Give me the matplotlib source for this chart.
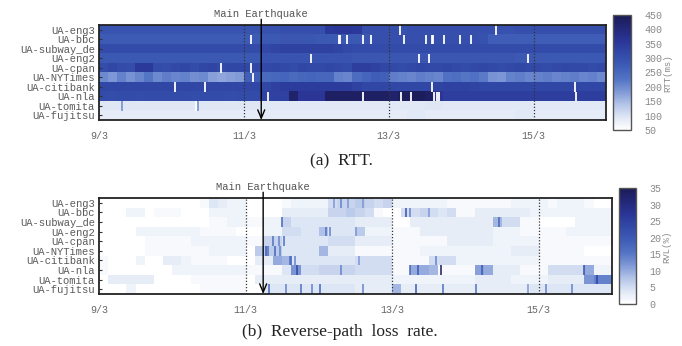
import numpy as np
import matplotlib
matplotlib.use("Agg")
import matplotlib.pyplot as plt
from matplotlib.colors import LinearSegmentedColormap

# ---------------- data ----------------
hosts = ["UA-eng3", "UA-bbc", "UA-subway_de", "UA-eng2", "UA-cpan",
         "UA-NYTimes", "UA-citibank", "UA-nla", "UA-tomita", "UA-fujitsu"]
day_labels = ["9/3", "11/3", "13/3", "15/3"]
day_ticks = [0, 2, 4, 6]          # days since 9/3 00:00
quake_day = 2.24                  # 11/3 05:46 JST
bins_per_day = 8                  # 3-hour bins

# RTT (ms), 56 bins per host (7 days x 8)
rtt_eng3 = [290,290,290,290,290,290,290,290, 290,290,290,290,290,290,290,290,
            290,290,295,295,300,300,300,300, 300,350,355,355,350,300,300,300,
            300,295,300,300,300,300,300,300, 300,300,300,300,295,295,300,300,
            300,300,300,300,300,300,300,300]
rtt_bbc = [275,275,275,275,275,275,275,275, 275,275,275,275,275,275,275,275,
           275,275,280,280,285,285,285,285, 280,280,280,280,280,285,300,300,
           300,300,300,300,300,300,300,300, 300,300,295,270,270,270,270,270,
           270,270,270,270,270,270,270,270]
rtt_subway = [310,310,310,310,310,310,310,310, 310,310,310,310,310,310,310,310,
              310,310,315,325,330,330,330,330, 330,330,325,315,310,310,310,310,
              310,310,310,310,310,310,310,310, 310,310,310,310,310,310,310,310,
              310,310,310,310,310,310,310,310]
rtt_eng2 = [280,280,280,280,280,280,280,280, 280,280,280,280,280,280,280,280,
            280,280,290,290,290,290,290,290, 290,290,290,290,285,285,285,285,
            285,285,285,285,285,285,285,285, 285,285,285,285,285,285,280,280,
            280,280,280,280,280,280,280,280]
rtt_cpan = [305,320,310,305,350,350,310,305, 315,320,310,320,325,315,320,320,
            320,320,315,320,315,310,320,315, 315,320,315,310,340,340,330,320,
            315,310,315,320,315,315,320,315, 310,315,320,315,310,315,320,315,
            315,310,315,320,315,315,310,315]
rtt_nyt = [200,185,210,190,205,225,200,215, 205,210,195,200,175,170,175,180,
           265,270,245,250,255,245,250,255, 250,250,210,205,240,255,270,265,
           215,210,205,215,210,205,230,235, 225,230,220,190,185,210,215,205,
           210,215,205,210,215,205,210,200]
rtt_citi = [320,320,320,320,320,320,320,320, 320,320,320,320,320,320,320,320,
            320,320,320,335,345,345,345,345, 345,345,345,345,330,320,320,320,
            320,320,320,320,320,325,330,330, 330,325,320,320,320,320,320,320,
            320,320,320,320,320,320,320,320]
rtt_nla = [310,305,310,310,305,310,310,310, 310,310,305,310,310,310,305,310,
           310,310,330,330,330,420,360,360, 360,430,430,430,430,430,430,430,
           420,440,440,440,430,360,340,340, 340,340,340,340,340,340,340,340,
           340,340,340,340,340,340,340,340]
rtt_tomita = [95,95,95,95,95,95,95,95, 95,95,95,95,95,95,95,95,
              95,95,90,90,90,90,90,90, 90,90,90,90,90,90,90,90,
              90,90,90,90,95,95,90,90, 90,90,90,90,90,90,90,90,
              90,90,90,90,90,90,90,90]
rtt_fujitsu = [85,85,85,85,85,85,85,85, 85,85,85,85,85,85,85,85,
               85,85,85,85,85,85,85,85, 85,85,85,85,85,85,85,85,
               85,85,90,90,85,85,85,85, 85,85,85,85,85,85,90,90,
               85,85,85,85,85,85,85,85]

# RTT gaps (white lines): (host index, day)
rtt_gap_rows = [0, 0, 1, 1, 1, 1, 1, 1, 1, 1, 1, 1, 1, 1, 1, 3, 3, 3, 3,
                4, 4, 5, 6, 6, 6, 6, 7, 7, 7, 7, 7, 7, 7, 7, 8]
rtt_gap_days = [4.16, 5.48, 2.10, 3.31, 3.33, 3.43, 3.65, 3.75, 4.21, 4.51, 4.60, 4.61,
                4.77, 4.99, 5.13, 2.93, 4.42, 4.55, 5.92,
                1.69, 2.10, 2.12, 1.05, 1.46, 4.60, 6.57, 2.34, 3.65, 4.17, 4.31,
                4.63, 4.67, 4.69, 6.59, 1.34]
# RTT spikes (darker blue lines)
rtt_spike_rows = [8, 8]
rtt_spike_days = [0.32, 1.37]
rtt_spike_vals = [200, 200]

# Reverse-path loss rate (%), 56 bins per host
rvl_eng3 = [0,0,0,0,0,0,0,0, 0,0,0,1,4,3,2,2, 0,0,0,0,1,2,2,2,
            2,5,6,6,7,6,5,6, 2,2,2,2,2,2,1,1, 1,1,1,1,1,2,2,2, 2,1,2,2,2,1,0,0]
rvl_bbc = [0,0,0,2,2,0,1,1, 1,0,0,0,2,2,2,2, 0,0,0,0,3,3,3,3,
           3,6,6,7,6,5,1,0, 0,5,5,6,5,4,5,1, 1,3,3,3,3,3,3,2, 2,2,2,2,2,2,2,2]
rvl_subway = [0,0,0,0,0,0,0,0, 0,0,0,0,1,1,2,2, 1,1,2,2,6,4,4,4,
              4,4,4,4,3,3,3,3, 0,0,3,3,3,3,3,3, 3,3,3,9,5,5,1,1, 0,0,0,0,2,2,2,2]
rvl_eng2 = [0,0,0,0,2,2,2,2, 2,2,2,1,1,1,1,0, 0,0,2,2,5,5,4,4,
            8,4,4,4,7,2,2,2, 1,1,1,3,3,3,3,3, 3,3,3,2,2,2,1,1, 1,1,1,2,2,2,2,2]
rvl_cpan = [0,0,0,0,0,1,1,1, 1,1,2,2,2,2,2,2, 1,1,6,6,4,4,4,4,
            4,5,5,5,3,3,3,3, 1,1,1,1,1,1,3,3, 3,3,3,2,2,2,2,2, 1,1,1,1,1,1,1,1]
rvl_nyt = [0,0,0,0,0,1,1,1, 1,1,1,1,2,2,2,2, 0,7,7,7,4,4,4,4,
           9,3,3,3,1,1,1,1, 1,1,1,2,2,2,2,2, 2,2,2,2,2,3,3,3, 1,1,1,1,1,0,0,0]
rvl_citi = [1,0,0,0,2,0,0,3, 3,2,1,1,1,1,0,0, 0,3,3,10,9,4,4,4,
            4,4,4,4,5,5,5,5, 1,1,1,1,5,5,5,2, 2,2,2,2,2,2,2,2, 1,1,1,1,1,1,1,1]
rvl_nla = [1,0,0,0,0,0,0,0, 2,2,2,2,2,2,2,2, 1,1,1,1,4,12,5,5,
           6,6,6,6,5,5,5,5, 1,1,10,10,9,1,1,1, 1,11,10,3,3,3,1,1, 1,5,5,5,5,10,2,2]
rvl_tomita = [0,3,3,3,3,3,0,0, 0,0,1,1,1,1,1,1, 0,3,3,3,3,3,3,3,
              3,3,3,3,3,3,3,3, 2,2,2,2,2,2,2,2, 2,3,3,3,3,2,2,2, 2,3,3,3,3,12,14,14]
rvl_fujitsu = [0,0,0,2,0,0,0,0, 0,0,0,1,1,1,1,1, 0,0,4,4,4,4,4,4,
               4,4,4,4,3,3,3,3, 9,3,3,3,3,3,3,3, 3,3,3,3,3,3,3,4, 4,4,4,4,4,4,4,4]

# RVL spikes (thin darker lines): (host index, day, value)
rvl_spike_rows = [7, 1, 7, 9, 9, 9, 9, 9, 9, 5, 6, 3, 2, 8, 7,
                  0, 0, 0, 0, 1, 1, 2, 3, 3, 4, 4, 4, 5, 5, 5, 6, 6, 6, 6,
                  7, 7, 7, 7, 9, 9, 9, 9, 9, 9]
rvl_spike_days = [4.67, 4.19, 2.70, 2.32, 2.75, 3.02, 4.32, 5.14, 6.10, 2.28, 2.62, 3.10,
                  2.50, 6.80, 6.62,
                  3.20, 3.30, 3.40, 3.60, 4.25, 4.50, 5.46, 3.15, 3.50, 2.38, 2.45, 2.52,
                  2.30, 2.40, 2.47, 2.60, 2.68, 3.55, 4.60,
                  4.25, 4.35, 5.22, 3.30, 2.55, 2.90, 3.60, 4.70, 5.85, 6.45]
rvl_spike_vals = [35, 22, 24, 18, 16, 18, 20, 16, 14, 20, 20, 16, 18, 25, 22,
                  12, 14, 12, 12, 14, 12, 18, 14, 12, 16, 14, 16,
                  16, 18, 14, 16, 14, 12, 14,
                  18, 20, 20, 14, 14, 14, 14, 16, 12, 14]

# ---------------- style ----------------
cmap = LinearSegmentedColormap.from_list(
    "rtt", ["#ffffff", "#dfe7f5", "#b3c4e8", "#7f98d6", "#5273c4",
            "#3e5cb6", "#3249a8", "#2a3596", "#232777", "#1b1c55"])
mono = "Liberation Mono"
serif = "Liberation Serif"

fig = plt.figure(figsize=(6.82, 3.46), dpi=100)

def panel(rect, crect, rows, vmin, vmax, cticks, clabel, cpos,
          gap_rows, gap_days, sp_rows, sp_days, sp_vals):
    ax = fig.add_axes(rect)
    data = np.array(rows, dtype=float)
    nb = data.shape[1]
    im = ax.imshow(data, cmap=cmap, vmin=vmin, vmax=vmax, aspect="auto",
                   interpolation="nearest",
                   extent=(0, nb / bins_per_day, len(hosts) - 0.5, -0.5))
    for r, d, v in zip(sp_rows, sp_days, sp_vals):
        ax.vlines(d, r - 0.5, r + 0.5, color=cmap((v - vmin) / (vmax - vmin)), lw=1.1)
    for r, d in zip(gap_rows, gap_days):
        ax.vlines(d, r - 0.5, r + 0.5, color="white", lw=1.3)
    for d in day_ticks[1:]:
        ax.axvline(d, color="#333333", ls=(0, (1, 1.5)), lw=0.9)
    ax.set_xlim(0, 7)
    ax.set_ylim(len(hosts) - 0.5, -0.5)
    ax.set_yticks(range(len(hosts)))
    ax.set_yticklabels(hosts, family=mono, fontsize=7.6, color="#5a5a5a")
    ax.set_xticks(day_ticks)
    ax.set_xticklabels(day_labels, family=mono, fontsize=7.2, color="#666666")
    ax.tick_params(axis="x", length=0, pad=8)
    ax.tick_params(axis="y", length=2, direction="in", pad=3, color="#333333")
    for s in ax.spines.values():
        s.set_linewidth(1.3)
        s.set_color("#222222")
    ax.annotate("", xy=(quake_day, len(hosts) - 0.5), xycoords="data",
                xytext=(quake_day, 1.06), textcoords=("data", "axes fraction"),
                arrowprops=dict(arrowstyle="->,head_length=0.6,head_width=0.25",
                                color="black", lw=1.0, shrinkA=0, shrinkB=0))
    ax.text(quake_day, 1.06, "Main Earthquake", transform=ax.get_xaxis_transform(),
            ha="center", va="bottom", family=mono, fontsize=7.6, color="#555555")
    cax = fig.add_axes(crect)
    cb = fig.colorbar(im, cax=cax, ticks=cticks)
    cb.outline.set_edgecolor("#555555")
    cb.outline.set_linewidth(1.0)
    cax.tick_params(length=0, pad=9.5, labelsize=7.2, labelcolor="#888888")
    for t in cax.get_yticklabels():
        t.set_family(mono)
    fig.text(cpos[0], cpos[1], clabel, rotation=90, family=mono, fontsize=6.5,
             color="#888888", ha="center", va="center")
    return ax

panel([99 / 682, 1 - 120 / 346, 507 / 682, 95 / 346],
      [613 / 682, 1 - 130 / 346, 18 / 682, 115 / 346],
      [rtt_eng3, rtt_bbc, rtt_subway, rtt_eng2, rtt_cpan, rtt_nyt,
       rtt_citi, rtt_nla, rtt_tomita, rtt_fujitsu],
      50, 450, list(range(50, 451, 50)), "RTT(ms)", (668 / 682, 1 - 73 / 346),
      rtt_gap_rows, rtt_gap_days, rtt_spike_rows, rtt_spike_days, rtt_spike_vals)

panel([99 / 682, 1 - 294 / 346, 513 / 682, 96 / 346],
      [619 / 682, 1 - 304 / 346, 17 / 682, 116 / 346],
      [rvl_eng3, rvl_bbc, rvl_subway, rvl_eng2, rvl_cpan, rvl_nyt,
       rvl_citi, rvl_nla, rvl_tomita, rvl_fujitsu],
      0, 35, list(range(0, 36, 5)), "RVL(%)", (667 / 682, 1 - 247 / 346),
      [], [], rvl_spike_rows, rvl_spike_days, rvl_spike_vals)

fig.text(341 / 682, 1 - 161 / 346, "(a)  RTT.", family=serif, fontsize=12.5,
         ha="center", va="center", color="#222222")
fig.text(340 / 682, 1 - 332 / 346, "(b)  Reverse-path  loss  rate.", family=serif,
         fontsize=12.5, ha="center", va="center", color="#222222")

fig.savefig("out.png", dpi=100)
